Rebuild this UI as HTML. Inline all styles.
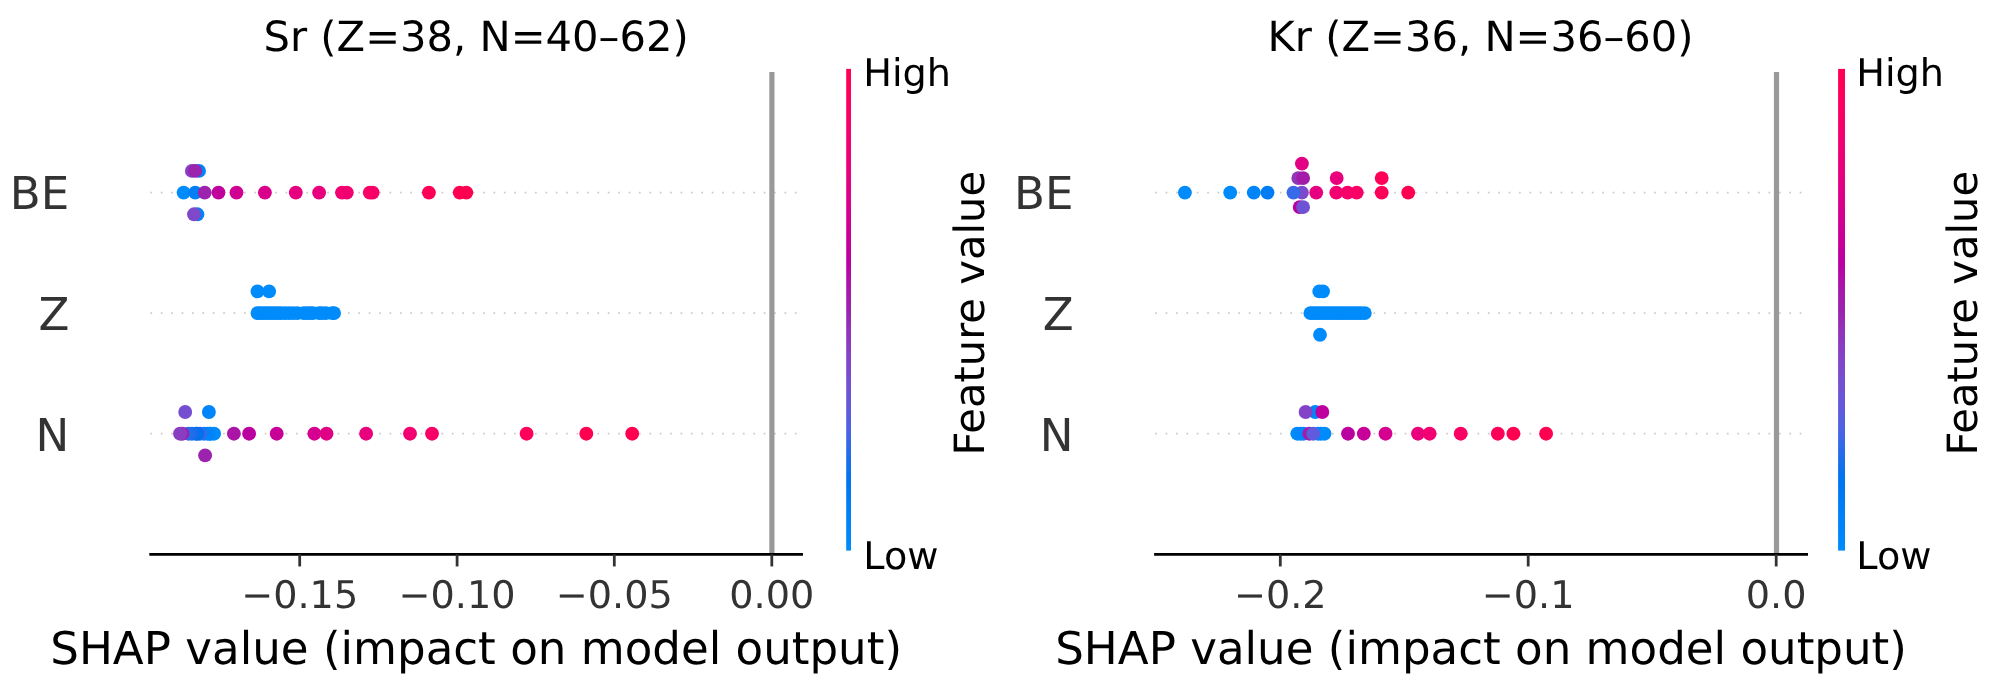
<!DOCTYPE html>
<html><head><meta charset="utf-8"><title>SHAP summary</title>
<style>html,body{margin:0;padding:0;background:#fff;overflow:hidden}svg{display:block;will-change:transform}text{text-rendering:geometricPrecision;font-family:'DejaVu Sans','Liberation Sans',sans-serif;}</style>
</head><body>
<svg width="1993" height="681" viewBox="0 0 1993 681">
<rect width="1993" height="681" fill="#ffffff"/>
<defs><linearGradient id="rb" x1="0" y1="0" x2="0" y2="1"><stop offset="0.00" stop-color="#ff0051"/><stop offset="0.05" stop-color="#fe005c"/><stop offset="0.10" stop-color="#f90067"/><stop offset="0.15" stop-color="#f20072"/><stop offset="0.20" stop-color="#e9007c"/><stop offset="0.25" stop-color="#e00086"/><stop offset="0.30" stop-color="#d5008f"/><stop offset="0.35" stop-color="#c80098"/><stop offset="0.40" stop-color="#bb00a0"/><stop offset="0.45" stop-color="#ab15a7"/><stop offset="0.50" stop-color="#9b23ad"/><stop offset="0.55" stop-color="#9135ba"/><stop offset="0.60" stop-color="#8443c6"/><stop offset="0.65" stop-color="#754fd1"/><stop offset="0.70" stop-color="#6359da"/><stop offset="0.75" stop-color="#4b63e3"/><stop offset="0.80" stop-color="#236cea"/><stop offset="0.85" stop-color="#0074f0"/><stop offset="0.90" stop-color="#007cf5"/><stop offset="0.95" stop-color="#0084f9"/><stop offset="1.00" stop-color="#008bfb"/></linearGradient></defs>
<line x1="150.40" y1="433.72" x2="801.60" y2="433.72" stroke="#cccccc" stroke-width="1.74" stroke-dasharray="1.74 8.655"/>
<line x1="150.40" y1="313.15" x2="801.60" y2="313.15" stroke="#cccccc" stroke-width="1.74" stroke-dasharray="1.74 8.655"/>
<line x1="150.40" y1="192.57" x2="801.60" y2="192.57" stroke="#cccccc" stroke-width="1.74" stroke-dasharray="1.74 8.655"/>
<line x1="771.90" y1="72.00" x2="771.90" y2="554.30" stroke="#999999" stroke-width="5.2"/>
<circle cx="183.6" cy="192.6" r="6.94" fill="#008bfb"/>
<circle cx="195.2" cy="192.6" r="6.94" fill="#007ff7"/>
<circle cx="204.7" cy="192.6" r="6.94" fill="#9b23ad"/>
<circle cx="218.5" cy="192.6" r="6.94" fill="#c0009c"/>
<circle cx="236.5" cy="192.6" r="6.94" fill="#d00093"/>
<circle cx="264.9" cy="192.6" r="6.94" fill="#d9008b"/>
<circle cx="295.8" cy="192.6" r="6.94" fill="#e60080"/>
<circle cx="319.1" cy="192.6" r="6.94" fill="#e9007c"/>
<circle cx="342.0" cy="192.6" r="6.94" fill="#f20072"/>
<circle cx="346.8" cy="192.6" r="6.94" fill="#f30070"/>
<circle cx="369.8" cy="192.6" r="6.94" fill="#f90067"/>
<circle cx="372.6" cy="192.6" r="6.94" fill="#f90067"/>
<circle cx="428.9" cy="192.6" r="6.94" fill="#ff0058"/>
<circle cx="459.8" cy="192.6" r="6.94" fill="#ff0051"/>
<circle cx="466.3" cy="192.6" r="6.94" fill="#ff0051"/>
<circle cx="199.0" cy="170.9" r="6.94" fill="#0084f9"/>
<circle cx="191.9" cy="170.9" r="6.94" fill="#893dc1"/>
<circle cx="195.2" cy="170.9" r="6.94" fill="#9b23ad"/>
<circle cx="197.4" cy="214.3" r="6.94" fill="#0084f9"/>
<circle cx="194.0" cy="214.3" r="6.94" fill="#7e48ca"/>
<circle cx="257.5" cy="291.4" r="6.94" fill="#008bfb"/>
<circle cx="269.1" cy="291.4" r="6.94" fill="#008bfb"/>
<circle cx="257.5" cy="313.1" r="6.94" fill="#008bfb"/>
<circle cx="260.0" cy="313.1" r="6.94" fill="#008bfb"/>
<circle cx="263.0" cy="313.1" r="6.94" fill="#008bfb"/>
<circle cx="266.0" cy="313.1" r="6.94" fill="#008bfb"/>
<circle cx="269.0" cy="313.1" r="6.94" fill="#008bfb"/>
<circle cx="272.0" cy="313.1" r="6.94" fill="#008bfb"/>
<circle cx="275.0" cy="313.1" r="6.94" fill="#008bfb"/>
<circle cx="278.0" cy="313.1" r="6.94" fill="#008bfb"/>
<circle cx="281.0" cy="313.1" r="6.94" fill="#008bfb"/>
<circle cx="285.0" cy="313.1" r="6.94" fill="#008bfb"/>
<circle cx="289.0" cy="313.1" r="6.94" fill="#008bfb"/>
<circle cx="293.0" cy="313.1" r="6.94" fill="#008bfb"/>
<circle cx="297.3" cy="313.1" r="6.94" fill="#008bfb"/>
<circle cx="303.7" cy="313.1" r="6.94" fill="#008bfb"/>
<circle cx="307.0" cy="313.1" r="6.94" fill="#008bfb"/>
<circle cx="310.0" cy="313.1" r="6.94" fill="#008bfb"/>
<circle cx="312.7" cy="313.1" r="6.94" fill="#008bfb"/>
<circle cx="319.1" cy="313.1" r="6.94" fill="#008bfb"/>
<circle cx="322.0" cy="313.1" r="6.94" fill="#008bfb"/>
<circle cx="325.9" cy="313.1" r="6.94" fill="#008bfb"/>
<circle cx="332.3" cy="313.1" r="6.94" fill="#008bfb"/>
<circle cx="334.1" cy="313.1" r="6.94" fill="#008bfb"/>
<circle cx="214.1" cy="433.7" r="6.94" fill="#008bfb"/>
<circle cx="211.0" cy="433.7" r="6.94" fill="#008bfb"/>
<circle cx="209.5" cy="433.7" r="6.94" fill="#0088fa"/>
<circle cx="207.5" cy="433.7" r="6.94" fill="#0084f9"/>
<circle cx="204.0" cy="433.7" r="6.94" fill="#0082f8"/>
<circle cx="200.0" cy="433.7" r="6.94" fill="#3e67e6"/>
<circle cx="197.5" cy="433.7" r="6.94" fill="#0071ee"/>
<circle cx="195.8" cy="433.7" r="6.94" fill="#006fed"/>
<circle cx="192.0" cy="433.7" r="6.94" fill="#146eec"/>
<circle cx="188.5" cy="433.7" r="6.94" fill="#236cea"/>
<circle cx="182.4" cy="433.7" r="6.94" fill="#9b23ad"/>
<circle cx="180.0" cy="433.7" r="6.94" fill="#893dc1"/>
<circle cx="233.9" cy="433.7" r="6.94" fill="#ab15a7"/>
<circle cx="249.1" cy="433.7" r="6.94" fill="#bb00a0"/>
<circle cx="276.7" cy="433.7" r="6.94" fill="#c80098"/>
<circle cx="314.4" cy="433.7" r="6.94" fill="#d5008f"/>
<circle cx="326.5" cy="433.7" r="6.94" fill="#e00086"/>
<circle cx="366.1" cy="433.7" r="6.94" fill="#e9007c"/>
<circle cx="410.0" cy="433.7" r="6.94" fill="#f20072"/>
<circle cx="432.0" cy="433.7" r="6.94" fill="#f90067"/>
<circle cx="526.6" cy="433.7" r="6.94" fill="#ff005b"/>
<circle cx="586.3" cy="433.7" r="6.94" fill="#ff0051"/>
<circle cx="632.2" cy="433.7" r="6.94" fill="#ff0051"/>
<circle cx="185.2" cy="412.0" r="6.94" fill="#754fd1"/>
<circle cx="208.9" cy="412.0" r="6.94" fill="#0084f9"/>
<circle cx="205.1" cy="455.4" r="6.94" fill="#9b23ad"/>
<line x1="149.31" y1="554.30" x2="802.99" y2="554.30" stroke="#000" stroke-width="2.78"/>
<line x1="299.70" y1="554.30" x2="299.70" y2="566.45" stroke="#333333" stroke-width="2.78"/>
<text x="299.70" y="607.6" font-size="38.19" fill="#333333" text-anchor="middle">−0.15</text>
<line x1="457.10" y1="554.30" x2="457.10" y2="566.45" stroke="#333333" stroke-width="2.78"/>
<text x="457.10" y="607.6" font-size="38.19" fill="#333333" text-anchor="middle">−0.10</text>
<line x1="614.30" y1="554.30" x2="614.30" y2="566.45" stroke="#333333" stroke-width="2.78"/>
<text x="614.30" y="607.6" font-size="38.19" fill="#333333" text-anchor="middle">−0.05</text>
<line x1="771.80" y1="554.30" x2="771.80" y2="566.45" stroke="#333333" stroke-width="2.78"/>
<text x="771.80" y="607.6" font-size="38.19" fill="#333333" text-anchor="middle">0.00</text>
<text x="476.15" y="664.0" font-size="45.14" fill="#000" text-anchor="middle">SHAP value (impact on model output)</text>
<text x="476.15" y="50.7" font-size="41.67" fill="#000" text-anchor="middle">Sr (Z=38, N=40–62)</text>
<text x="69.30" y="450.62" font-size="45.14" fill="#333333" text-anchor="end">N</text>
<text x="69.30" y="330.05" font-size="45.14" fill="#333333" text-anchor="end">Z</text>
<text x="69.30" y="209.47" font-size="45.14" fill="#333333" text-anchor="end">BE</text>
<rect x="846.20" y="68.90" width="4.80" height="481.70" fill="url(#rb)"/>
<text x="863.30" y="86.10" font-size="38.19" fill="#000">High</text>
<text x="863.30" y="568.90" font-size="38.19" fill="#000">Low</text>
<text transform="translate(983.70,313.20) rotate(-90)" font-size="41.67" fill="#000" text-anchor="middle">Feature value</text>
<line x1="1155.20" y1="433.72" x2="1806.60" y2="433.72" stroke="#cccccc" stroke-width="1.74" stroke-dasharray="1.74 8.655"/>
<line x1="1155.20" y1="313.15" x2="1806.60" y2="313.15" stroke="#cccccc" stroke-width="1.74" stroke-dasharray="1.74 8.655"/>
<line x1="1155.20" y1="192.57" x2="1806.60" y2="192.57" stroke="#cccccc" stroke-width="1.74" stroke-dasharray="1.74 8.655"/>
<line x1="1776.50" y1="72.00" x2="1776.50" y2="554.30" stroke="#999999" stroke-width="5.2"/>
<circle cx="1184.9" cy="192.6" r="6.94" fill="#008bfb"/>
<circle cx="1230.2" cy="192.6" r="6.94" fill="#008bfb"/>
<circle cx="1253.8" cy="192.6" r="6.94" fill="#0085f9"/>
<circle cx="1267.5" cy="192.6" r="6.94" fill="#007cf5"/>
<circle cx="1301.9" cy="192.6" r="6.94" fill="#7b4acc"/>
<circle cx="1293.5" cy="192.6" r="6.94" fill="#3769e8"/>
<circle cx="1316.2" cy="192.6" r="6.94" fill="#e60080"/>
<circle cx="1336.3" cy="192.6" r="6.94" fill="#f20072"/>
<circle cx="1347.6" cy="192.6" r="6.94" fill="#f6006b"/>
<circle cx="1356.7" cy="192.6" r="6.94" fill="#f90067"/>
<circle cx="1381.7" cy="192.6" r="6.94" fill="#ff0058"/>
<circle cx="1408.2" cy="192.6" r="6.94" fill="#ff0051"/>
<circle cx="1298.3" cy="178.1" r="6.94" fill="#9135ba"/>
<circle cx="1303.1" cy="178.1" r="6.94" fill="#a51ba9"/>
<circle cx="1336.7" cy="178.1" r="6.94" fill="#e9007c"/>
<circle cx="1381.7" cy="178.1" r="6.94" fill="#ff0058"/>
<circle cx="1301.9" cy="163.6" r="6.94" fill="#e20084"/>
<circle cx="1299.7" cy="207.1" r="6.94" fill="#bb00a0"/>
<circle cx="1303.1" cy="207.1" r="6.94" fill="#6e53d5"/>
<circle cx="1319.3" cy="291.4" r="6.94" fill="#008bfb"/>
<circle cx="1323.0" cy="291.4" r="6.94" fill="#008bfb"/>
<circle cx="1320.0" cy="334.8" r="6.94" fill="#008bfb"/>
<circle cx="1310.4" cy="313.1" r="6.94" fill="#008bfb"/>
<circle cx="1313.0" cy="313.1" r="6.94" fill="#008bfb"/>
<circle cx="1316.0" cy="313.1" r="6.94" fill="#008bfb"/>
<circle cx="1319.0" cy="313.1" r="6.94" fill="#008bfb"/>
<circle cx="1322.0" cy="313.1" r="6.94" fill="#008bfb"/>
<circle cx="1325.0" cy="313.1" r="6.94" fill="#008bfb"/>
<circle cx="1328.0" cy="313.1" r="6.94" fill="#008bfb"/>
<circle cx="1331.0" cy="313.1" r="6.94" fill="#008bfb"/>
<circle cx="1334.0" cy="313.1" r="6.94" fill="#008bfb"/>
<circle cx="1337.0" cy="313.1" r="6.94" fill="#008bfb"/>
<circle cx="1340.0" cy="313.1" r="6.94" fill="#008bfb"/>
<circle cx="1343.0" cy="313.1" r="6.94" fill="#008bfb"/>
<circle cx="1346.0" cy="313.1" r="6.94" fill="#008bfb"/>
<circle cx="1349.0" cy="313.1" r="6.94" fill="#008bfb"/>
<circle cx="1352.0" cy="313.1" r="6.94" fill="#008bfb"/>
<circle cx="1355.0" cy="313.1" r="6.94" fill="#008bfb"/>
<circle cx="1358.0" cy="313.1" r="6.94" fill="#008bfb"/>
<circle cx="1361.0" cy="313.1" r="6.94" fill="#008bfb"/>
<circle cx="1364.8" cy="313.1" r="6.94" fill="#008bfb"/>
<circle cx="1297.3" cy="433.7" r="6.94" fill="#008bfb"/>
<circle cx="1300.5" cy="433.7" r="6.94" fill="#0088fa"/>
<circle cx="1303.5" cy="433.7" r="6.94" fill="#0086fa"/>
<circle cx="1318.0" cy="433.7" r="6.94" fill="#0082f8"/>
<circle cx="1321.0" cy="433.7" r="6.94" fill="#0084f9"/>
<circle cx="1324.5" cy="433.7" r="6.94" fill="#008bfb"/>
<circle cx="1309.3" cy="433.7" r="6.94" fill="#a51ba9"/>
<circle cx="1313.2" cy="433.7" r="6.94" fill="#5e5bdc"/>
<circle cx="1348.0" cy="433.7" r="6.94" fill="#bb00a0"/>
<circle cx="1363.8" cy="433.7" r="6.94" fill="#c60099"/>
<circle cx="1385.5" cy="433.7" r="6.94" fill="#d5008f"/>
<circle cx="1418.0" cy="433.7" r="6.94" fill="#e9007c"/>
<circle cx="1429.6" cy="433.7" r="6.94" fill="#f20072"/>
<circle cx="1460.7" cy="433.7" r="6.94" fill="#fb0063"/>
<circle cx="1497.8" cy="433.7" r="6.94" fill="#ff0059"/>
<circle cx="1513.4" cy="433.7" r="6.94" fill="#ff0051"/>
<circle cx="1546.1" cy="433.7" r="6.94" fill="#ff0051"/>
<circle cx="1315.2" cy="412.0" r="6.94" fill="#0084f9"/>
<circle cx="1305.6" cy="412.0" r="6.94" fill="#8443c6"/>
<circle cx="1322.3" cy="412.0" r="6.94" fill="#bd009e"/>
<line x1="1154.11" y1="554.30" x2="1807.99" y2="554.30" stroke="#000" stroke-width="2.78"/>
<line x1="1280.30" y1="554.30" x2="1280.30" y2="566.45" stroke="#333333" stroke-width="2.78"/>
<text x="1280.30" y="607.6" font-size="38.19" fill="#333333" text-anchor="middle">−0.2</text>
<line x1="1528.20" y1="554.30" x2="1528.20" y2="566.45" stroke="#333333" stroke-width="2.78"/>
<text x="1528.20" y="607.6" font-size="38.19" fill="#333333" text-anchor="middle">−0.1</text>
<line x1="1776.20" y1="554.30" x2="1776.20" y2="566.45" stroke="#333333" stroke-width="2.78"/>
<text x="1776.20" y="607.6" font-size="38.19" fill="#333333" text-anchor="middle">0.0</text>
<text x="1481.05" y="664.0" font-size="45.14" fill="#000" text-anchor="middle">SHAP value (impact on model output)</text>
<text x="1480.55" y="50.7" font-size="41.67" fill="#000" text-anchor="middle">Kr (Z=36, N=36–60)</text>
<text x="1073.60" y="450.62" font-size="45.14" fill="#333333" text-anchor="end">N</text>
<text x="1073.60" y="330.05" font-size="45.14" fill="#333333" text-anchor="end">Z</text>
<text x="1073.60" y="209.47" font-size="45.14" fill="#333333" text-anchor="end">BE</text>
<rect x="1838.10" y="68.90" width="6.90" height="481.70" fill="url(#rb)"/>
<text x="1856.30" y="86.10" font-size="38.19" fill="#000">High</text>
<text x="1856.30" y="568.90" font-size="38.19" fill="#000">Low</text>
<text transform="translate(1976.70,313.20) rotate(-90)" font-size="41.67" fill="#000" text-anchor="middle">Feature value</text>
</svg></body></html>
